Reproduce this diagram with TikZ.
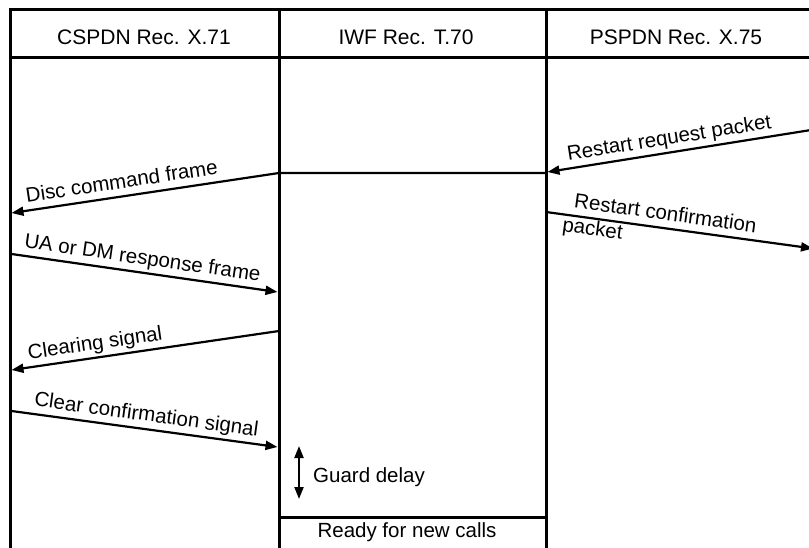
\documentclass[tikz,border=0pt]{standalone}
\usepackage{fontspec}
\setmainfont{Liberation Sans}
\usetikzlibrary{arrows.meta}
\begin{document}
\begin{tikzpicture}[x=1pt,y=-1pt,
  >={Triangle[length=12pt,width=9pt]},
  frame/.style={line width=3pt},
  msg/.style={line width=2.2pt},
  hdr/.style={font=\fontsize{21}{25}\selectfont, inner sep=0pt},
  lbl/.style={font=\fontsize{20.5}{24}\selectfont, inner sep=0pt, sloped, anchor=base}]
\useasboundingbox (0,0) rectangle (809,548);
% frame
\coordinate (tl) at (10,10);
\coordinate (tr) at (809,10);
\coordinate (bl) at (10,548);
\coordinate (hl) at (10,58);
\coordinate (hr) at (809,58);
\coordinate (m1t) at (279,10);
\coordinate (m1b) at (279,548);
\coordinate (m2t) at (546,10);
\coordinate (m2b) at (546,548);
\draw[frame] (tr) -- (tl) -- (bl);
\draw[frame] (hl) -- (hr);
\draw[frame] (m1t) -- (m1b);
\draw[frame] (m2t) -- (m2b);
% headers
\node[hdr] (h1) at (144,37) {CSPDN Rec. X.71};
\node[hdr] (h2) at (406,37) {IWF Rec. T.70};
\node[hdr] (h3) at (676,37) {PSPDN Rec. X.75};
% restart request packet
\coordinate (rq0) at (811,130);
\coordinate (rq1) at (547.5,172);
\draw[msg, <-] (rq1) -- node[lbl, pos=0.47, yshift=8pt] (t1) {Restart request packet} (rq0);
% disc command frame
\coordinate (dc0) at (546,173);
\coordinate (dc1) at (279,173);
\coordinate (dc2) at (11.5,213);
\draw[msg, <-] (dc2) -- node[lbl, pos=0.42, yshift=8pt] (t2) {Disc command frame} (dc1) -- (dc0);
% UA or DM response frame
\coordinate (ua0) at (11.5,254);
\coordinate (ua1) at (277.5,292);
\draw[msg, ->] (ua0) -- node[lbl, pos=0.485, yshift=8pt] (t3) {UA or DM response frame} (ua1);
% restart confirmation packet
\coordinate (rc0) at (546,212);
\coordinate (rc1) at (813,248.5);
\draw[msg, ->] (rc0) -- node[lbl, pos=0.44, yshift=8pt] (t4) {Restart confirmation}
  node[lbl, pos=0.18, yshift=-17pt] (t5) {packet} (rc1);
% clearing signal
\coordinate (cs0) at (279,331);
\coordinate (cs1) at (11.5,370);
\draw[msg, <-] (cs1) -- node[lbl, pos=0.32, yshift=8pt] (t6) {Clearing signal} (cs0);
% clear confirmation signal
\coordinate (cc0) at (11.5,411);
\coordinate (cc1) at (277.5,447);
\draw[msg, ->] (cc0) -- node[lbl, pos=0.5, yshift=8pt] (t7) {Clear confirmation signal} (cc1);
% guard delay
\coordinate (g0) at (299,446);
\coordinate (g1) at (299,499);
\draw[msg, <->] (g0) -- (g1);
\node[hdr, font=\fontsize{20.5}{24}\selectfont, anchor=west] (gd) at (313,477) {Guard delay};
% ready for new calls
\coordinate (r0) at (279,517);
\coordinate (r1) at (546,517);
\draw[frame] (r0) -- (r1);
\node[hdr, font=\fontsize{20.5}{24}\selectfont] (rd) at (407,532) {Ready for new calls};
\end{tikzpicture}
\end{document}
